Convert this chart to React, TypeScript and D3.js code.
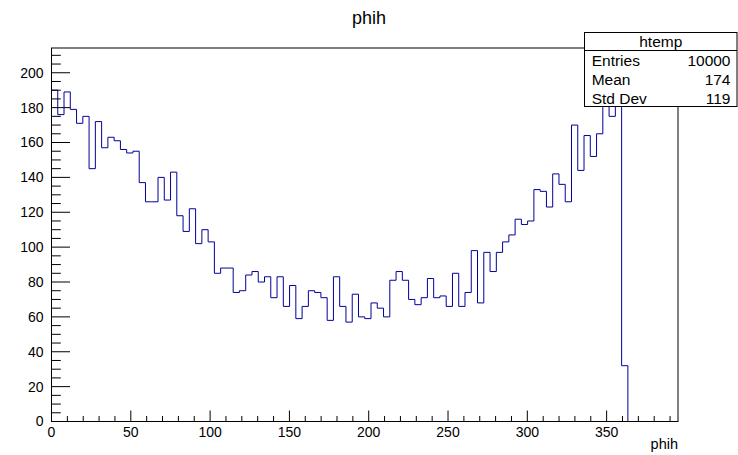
import React from "react";
import * as d3 from "d3";

const histTitle = "phih";
const xTitle = "phih";
const xMin = 0;
const xMax = 395;
const nBins = 100;
const binCounts = [
  190, 176, 189, 179, 171, 175, 145, 172, 157, 163,
  161, 156, 154, 155, 137, 126, 126, 140, 127, 143,
  118, 109, 122, 102, 110, 103, 85, 88, 88, 74,
  75, 84, 86, 80, 83, 71, 83, 66, 78, 59,
  66, 75, 74, 71, 58, 83, 66, 57, 73, 60,
  59, 68, 65, 60, 81, 86, 81, 70, 67, 71,
  82, 71, 72, 66, 85, 66, 74, 98, 68, 97,
  86, 97, 103, 107, 116, 113, 115, 133, 132, 123,
  142, 136, 126, 170, 144, 164, 152, 165, 190, 175,
  204, 32, 0, 0, 0, 0, 0, 0, 0, 0,
];
const statsName = "htemp";
const statsLabels = ["Entries", "Mean", "Std Dev"];
const statsValues = ["10000", "174", "119"];
const xMajorTicks = [0, 50, 100, 150, 200, 250, 300, 350];
const yMajorTicks = [0, 20, 40, 60, 80, 100, 120, 140, 160, 180, 200];

const W = 738;
const H = 455;
const FONT = "'Liberation Sans', Arial, Helvetica, sans-serif";

export default function App() {
  const left = 51.5, right = 678, top = 48, bottom = 421.5;
  const yMax = (d3.max(binCounts) as number) * 1.05;
  const x = d3.scaleLinear().domain([xMin, xMax]).range([left, right]);
  const y = d3.scaleLinear().domain([0, yMax]).range([bottom, top]);
  const bw = (xMax - xMin) / nBins;

  const pts: [number, number][] = [[x(xMin), y(0)]];
  binCounts.forEach((c, i) => {
    const lo = xMin + i * bw;
    const hi = lo + bw;
    pts.push([x(lo), y(c)]);
    pts.push([x(hi), y(c)]);
  });
  pts.push([x(xMax), y(0)]);
  const path = d3.line()(pts) || "";

  const yMinor = d3.range(0, yMax, 5);
  const xMinor = d3.range(0, xMax, 10);

  const bx = 584.5, by = 32.5, bw2 = 152.5, bh = 74;

  return (
    <svg width={W} height={H} style={{ position: "absolute", left: 0, top: 0, background: "#fff" }} fontFamily={FONT}>
      <rect x={0} y={0} width={W} height={H} fill="#fff" />
      <text x={369} y={24} textAnchor="middle" fontSize={18} fill="#000">{histTitle}</text>
      <path d={path} fill="none" stroke="#000099" strokeWidth={1} />
      <rect x={left} y={top} width={right - left} height={bottom - top} fill="none" stroke="#000" strokeWidth={1} />
      {yMinor.map((v) => {
        const major = yMajorTicks.includes(v);
        return <line key={"ym" + v} x1={left} x2={left + (major ? 18.5 : 9.3)} y1={y(v)} y2={y(v)} stroke="#000" strokeWidth={1} />;
      })}
      {yMajorTicks.map((v) => (
        <text key={"yl" + v} x={43.5} y={y(v)} dy="0.35em" textAnchor="end" fontSize={14} fill="#000">{v}</text>
      ))}
      {xMinor.map((v) => {
        const major = xMajorTicks.includes(v);
        return <line key={"xm" + v} x1={x(v)} x2={x(v)} y1={bottom} y2={bottom - (major ? 11 : 5.5)} stroke="#000" strokeWidth={1} />;
      })}
      {xMajorTicks.map((v) => (
        <text key={"xl" + v} x={x(v)} y={436.5} textAnchor="middle" fontSize={14} fill="#000">{v}</text>
      ))}
      <text x={right} y={449} textAnchor="end" fontSize={14.5} fill="#000">{xTitle}</text>
      <rect x={bx} y={by} width={bw2} height={bh} fill="#fff" stroke="#000" strokeWidth={1} />
      <line x1={bx} x2={bx + bw2} y1={50.5} y2={50.5} stroke="#000" strokeWidth={1} />
      <text x={bx + bw2 / 2} y={46.7} textAnchor="middle" fontSize={15.5} fill="#000">{statsName}</text>
      {statsLabels.map((l, i) => (
        <g key={l}>
          <text x={591.7} y={66 + i * 19} fontSize={15.5} fill="#000">{l}</text>
          <text x={730.5} y={66 + i * 19} textAnchor="end" fontSize={15.5} fill="#000">{statsValues[i]}</text>
        </g>
      ))}
    </svg>
  );
}
